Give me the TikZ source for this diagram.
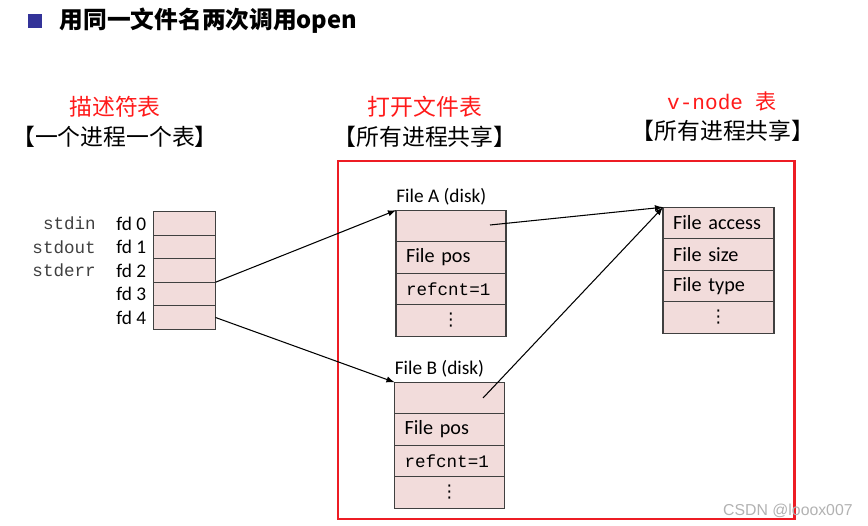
\documentclass[tikz,border=0pt]{standalone}
\usepackage{fontspec}
\setmainfont{Carlito}
\setmonofont{Liberation Mono}
\newfontfamily\cjk{Noto Sans CJK SC}
\newfontfamily\markfont{Liberation Sans}
\newfontfamily\dotfont{DejaVu Sans}
\usetikzlibrary{positioning}

\definecolor{cellpink}{HTML}{F2DCDB}
\definecolor{cellline}{HTML}{404040}
\definecolor{framered}{HTML}{ED1C24}
\definecolor{headred}{HTML}{FF1A1A}
\definecolor{bulletblue}{HTML}{333399}

\tikzset{
  fdcell/.style={draw=cellline, fill=cellpink, line width=0.7pt, minimum width=1.24cm, minimum height=0.47cm, inner sep=0pt, outer sep=0pt},
  filecell/.style={draw=cellline, fill=cellpink, line width=0.7pt, text width=1.8cm, inner xsep=0.2cm, inner ysep=0pt, minimum height=0.63cm, outer sep=0pt, align=left, font=\fontsize{11.5pt}{13pt}\selectfont},
  dotcell/.style={filecell, align=center, font=\dotfont\fontsize{10pt}{11pt}\selectfont},
  monocell/.style={filecell, font=\ttfamily\fontsize{10pt}{12pt}\selectfont},
  lbl/.style={inner sep=0pt, font=\fontsize{11pt}{13pt}\selectfont},
  stdlbl/.style={inner sep=0pt, text=black!75, font=\ttfamily\fontsize{10pt}{12pt}\selectfont},
  head/.style={inner sep=0pt, text=headred, font=\cjk\fontsize{13pt}{15pt}\selectfont},
  sub/.style={inner sep=0pt, font=\cjk\fontsize{13pt}{15pt}\selectfont},
  link/.style={-latex, line width=0.6pt},
}

\begin{document}
\begin{tikzpicture}[x=0.02cm, y=-0.02cm]
\useasboundingbox (0,0) rectangle (868,526);

\node[fill=bulletblue, minimum size=0.28cm, inner sep=0pt] (bullet) at (35,21) {};
\node[right=0.34cm of bullet, inner sep=0pt, font=\cjk\bfseries\fontsize{13.5pt}{15pt}\selectfont] (title) {用同一文件名两次调用open};

\node[head] (fdhead) at (115,107) {描述符表};
\node[sub] (fdsub) at (115,137) {【一个进程一个表】};
\node[head] (ofhead) at (425,107) {打开文件表};
\node[sub] (ofsub) at (425,137) {【所有进程共享】};
\node[head, font=\fontsize{12pt}{14pt}\selectfont] (vhead) at (722,101) {\ttfamily v-node\ \cjk 表};
\node[sub] (vsub) at (723,131) {【所有进程共享】};

\draw[framered, line width=1.7pt] (338,161) rectangle (794,519);

\node[fdcell] (fd0) at (184.5,223.5) {};
\node[fdcell, below=0cm of fd0] (fd1) {};
\node[fdcell, below=0cm of fd1] (fd2) {};
\node[fdcell, below=0cm of fd2] (fd3) {};
\node[fdcell, below=0cm of fd3] (fd4) {};
\node[lbl, left=0.14cm of fd0] (fdl0) {fd 0};
\node[lbl, left=0.14cm of fd1] (fdl1) {fd 1};
\node[lbl, left=0.14cm of fd2] (fdl2) {fd 2};
\node[lbl, left=0.14cm of fd3] (fdl3) {fd 3};
\node[lbl, left=0.14cm of fd4] (fdl4) {fd 4};
\node[stdlbl, left=0.4cm of fdl0] (sin) {stdin};
\node[stdlbl, left=0.4cm of fdl1] (sout) {stdout};
\node[stdlbl, left=0.4cm of fdl2] (serr) {stderr};

\node[filecell] (fa0) at (451,226) {};
\node[filecell, below=0cm of fa0] (fa1) {File pos};
\node[monocell, below=0cm of fa1] (fa2) {refcnt=1};
\node[dotcell, below=0cm of fa2] (fa3) {⋮};
\node[lbl, above right=0.1cm and 0cm of fa0.north west] (falbl) {File A (disk)};

\node[filecell] (fb0) at (449.5,398) {};
\node[filecell, below=0cm of fb0] (fb1) {File pos};
\node[monocell, below=0cm of fb1] (fb2) {refcnt=1};
\node[dotcell, below=0cm of fb2] (fb3) {⋮};
\node[lbl, above right=0.1cm and 0cm of fb0.north west] (fblbl) {File B (disk)};

\node[filecell, text width=1.82cm] (va0) at (718.5,223) {File access};
\node[filecell, text width=1.82cm, below=0cm of va0] (va1) {File size};
\node[filecell, text width=1.82cm, below=0cm of va1] (va2) {File type};
\node[dotcell, text width=1.82cm, below=0cm of va2] (va3) {⋮};

\coordinate (fadot) at (490,225);
\coordinate (fbdot) at (483,398);
\draw[link] (fd3.north east) -- (fa0.north west);
\draw[link] (fd4.east) -- (fb0.north west);
\draw[link] (fadot) -- (va0.north west);
\draw[link] (fbdot) -- (va0.north west);

\node[anchor=east, inner sep=0pt, text=black!30, font=\markfont\fontsize{9pt}{11pt}\selectfont] (mark) at (853,511) {CSDN @looox007};
\end{tikzpicture}
\end{document}
